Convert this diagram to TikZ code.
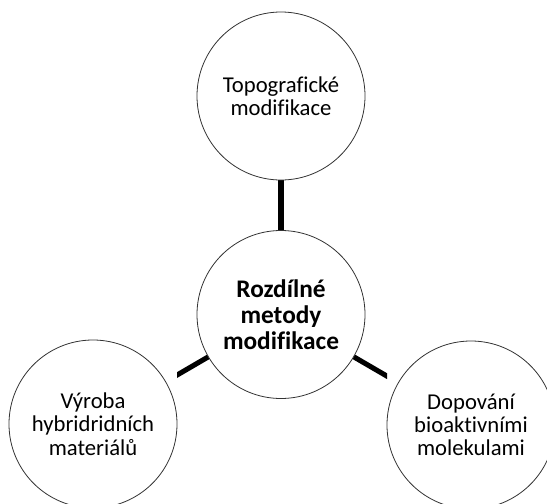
\documentclass[tikz,border=0pt]{standalone}
\usepackage{fontspec}
\setmainfont{Carlito}[Ligatures=NoCommon]
\begin{document}
\begin{tikzpicture}[x=0.75pt,y=-0.75pt,
  bubble/.style={circle,draw=black!80,line width=0.6pt,fill=white,minimum size=126pt,inner sep=0pt,align=center,
    font=\fontsize{17pt}{17.5pt}\selectfont},
  hub/.style={bubble,font=\fontsize{19pt}{19.5pt}\selectfont\bfseries},
  link/.style={line width=3.8pt,black}]
\useasboundingbox (0,0) rectangle (547,504);
\coordinate (tc) at (281,96);
\coordinate (cc) at (281,314.5);
\coordinate (lc) at (93,424);
\coordinate (rc) at (471,425);
\begin{scope}
\clip (177,0) rectangle (387,504);
\draw[link] (cc) -- (tc);
\draw[link] (cc) -- (lc);
\draw[link] (cc) -- (rc);
\end{scope}
\node[bubble] (t) at (tc) {Topografické\\modifikace};
\node[hub] (c) at (cc) {Rozdílné\\metody\\modifikace};
\node[bubble] (l) at (lc) {Výroba\\hybridridních\\materiálů};
\node[bubble] (r) at (rc) {Dopování\\bioaktivními\\molekulami};
\end{tikzpicture}
\end{document}
